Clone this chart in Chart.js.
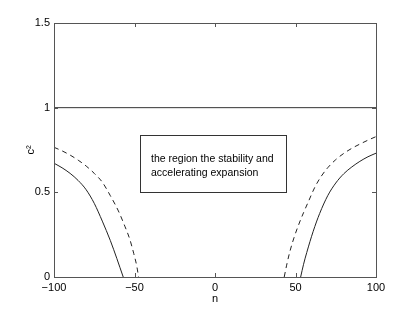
<!DOCTYPE html>
<html>
<head>
<meta charset="utf-8">
<script src="https://cdn.jsdelivr.net/npm/chart.js@4/dist/chart.umd.min.js"></script>
<style>
  html, body { margin: 0; padding: 0; background: #fff; }
  #wrap { width: 415px; height: 313px; }
</style>
</head>
<body>
<div id="wrap"><canvas id="c"></canvas></div>
<script>
'use strict';

/* ── Data ──────────────────────────────────────────────── */
const xTicks = [-100, -50, 0, 50, 100];
const yTicks = [0, 0.5, 1, 1.5];

const levelLine = [{ x: -100, y: 1 }, { x: 100, y: 1 }];

const leftSolidN = [-100, -95, -90, -85, -80, -75, -70, -65, -61, -59, -57];
const leftSolidC = [0.672, 0.645, 0.612, 0.57, 0.515, 0.435, 0.33, 0.215, 0.11, 0.055, 0];

const leftDashN = [-100, -95, -90, -85, -80, -75, -70, -65, -60, -56, -53, -50.5, -48.5, -47.5];
const leftDashC = [0.766, 0.745, 0.72, 0.69, 0.655, 0.612, 0.56, 0.48, 0.39, 0.30, 0.225, 0.14, 0.06, 0];

const rightSolidN = [53.2, 55, 57, 61, 65, 70, 75, 80, 85, 90, 95, 100];
const rightSolidC = [0, 0.075, 0.145, 0.27, 0.375, 0.48, 0.555, 0.61, 0.65, 0.683, 0.71, 0.731];

const rightDashN = [43, 44.5, 46.5, 49, 52, 55, 58, 62, 66, 70, 75, 80, 85, 90, 95, 100];
const rightDashC = [0, 0.07, 0.15, 0.23, 0.31, 0.38, 0.445, 0.53, 0.595, 0.645, 0.693, 0.73, 0.76, 0.785, 0.808, 0.829];

const boxLines = ['the region the stability and', 'accelerating expansion'];

const pts = (xs, ys) => xs.map((x, i) => ({ x, y: ys[i] }));

/* ── Frame: box outline with inward ticks + text box ───── */
const frame = {
  id: 'frame',
  afterDatasetsDraw(chart) {
    const { ctx, chartArea: a, scales } = chart;
    ctx.save();
    ctx.strokeStyle = '#555';
    ctx.lineWidth = 1;
    ctx.strokeRect(a.left + 0.5, a.top + 0.5, a.right - a.left, a.bottom - a.top);
    ctx.beginPath();
    xTicks.forEach(v => {
      const px = Math.round(scales.x.getPixelForValue(v)) + 0.5;
      ctx.moveTo(px, a.bottom); ctx.lineTo(px, a.bottom - 4);
      ctx.moveTo(px, a.top); ctx.lineTo(px, a.top + 4);
    });
    yTicks.forEach(v => {
      const py = Math.round(scales.y.getPixelForValue(v)) + 0.5;
      ctx.moveTo(a.left, py); ctx.lineTo(a.left + 4, py);
      ctx.moveTo(a.right, py); ctx.lineTo(a.right - 4, py);
    });
    ctx.stroke();

    // annotation box
    const bx = 140.5, by = 135.5, bw = 146, bh = 57;
    ctx.fillStyle = '#fff';
    ctx.fillRect(bx, by, bw, bh);
    ctx.strokeStyle = '#333';
    ctx.strokeRect(bx, by, bw, bh);
    ctx.fillStyle = '#000';
    ctx.font = '10.5px "Liberation Sans", Arial, sans-serif';
    ctx.textBaseline = 'middle';
    ctx.textAlign = 'left';
    boxLines.forEach((t, i) => ctx.fillText(t, 151, 159 + i * 14));
    ctx.restore();
  }
};

const tickFont = { family: '"Liberation Sans", Arial, sans-serif', size: 11 };

new Chart(document.getElementById('c'), {
  type: 'scatter',
  data: {
    datasets: [
      { data: levelLine, borderColor: '#333' },
      { data: pts(leftSolidN, leftSolidC), borderColor: '#222' },
      { data: pts(rightSolidN, rightSolidC), borderColor: '#222' },
      { data: pts(leftDashN, leftDashC), borderColor: '#222', borderDash: [5, 4] },
      { data: pts(rightDashN, rightDashC), borderColor: '#222', borderDash: [5, 4] }
    ].map(d => ({ showLine: true, pointRadius: 0, borderWidth: 1, cubicInterpolationMode: 'monotone', fill: false, ...d }))
  },
  options: {
    responsive: true,
    maintainAspectRatio: false,
    animation: false,
    layout: { padding: { left: 20, top: 23, right: 39, bottom: 0 } },
    plugins: { legend: { display: false }, tooltip: { enabled: false } },
    scales: {
      x: {
        type: 'linear', min: -100, max: 100,
        afterBuildTicks: s => { s.ticks = xTicks.map(v => ({ value: v })); },
        afterFit: s => { s.height = 36; },
        grid: { display: false, drawTicks: false },
        border: { display: false },
        ticks: { font: tickFont, color: '#000', padding: 4, maxRotation: 0,
                 callback: v => (v < 0 ? '\u2212' + Math.abs(v) : String(v)) },
        title: { display: true, text: 'n', font: tickFont, color: '#000', padding: { top: 0, bottom: 7 } }
      },
      y: {
        type: 'linear', min: 0, max: 1.5,
        afterBuildTicks: s => { s.ticks = yTicks.map(v => ({ value: v })); },
        afterFit: s => { s.width = 34; },
        grid: { display: false, drawTicks: false },
        border: { display: false },
        ticks: { font: tickFont, color: '#000', padding: 4, callback: v => String(v) },
        title: { display: true, text: 'c\u00b2', font: tickFont, color: '#000', padding: { top: 4, bottom: 4 } }
      }
    }
  },
  plugins: [frame]
});
</script>
</body>
</html>
